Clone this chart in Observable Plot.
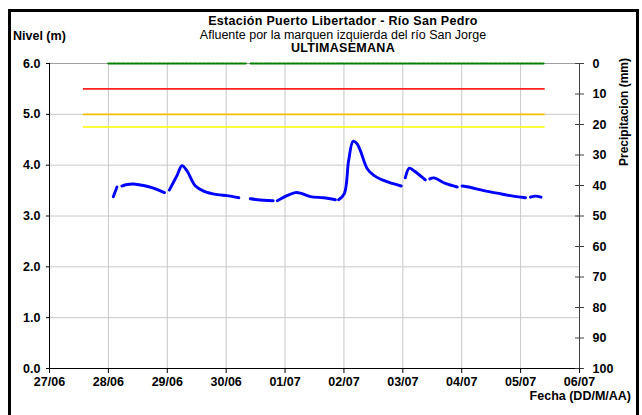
<!DOCTYPE html>
<html>
<head>
<meta charset="utf-8">
<script src="https://cdn.jsdelivr.net/npm/d3@7"></script>
<script src="https://cdn.jsdelivr.net/npm/@observablehq/plot@0.6"></script>
<style>
  html, body { margin: 0; padding: 0; background: #fff; width: 642px; height: 415px; overflow: hidden; }
  #wrap { position: relative; width: 642px; height: 415px; font-family: "Liberation Sans", Arial, sans-serif; }
  #chart { position: absolute; left: 0; top: 0; }
  .frame { position: absolute; left: 8px; top: 9px; width: 631px; height: 420px; border: 3px solid #000; box-sizing: border-box; }
  .t { position: absolute; color: #000; font-size: 12px; white-space: nowrap; line-height: 1; }
  .b { font-weight: bold; }
</style>
</head>
<body>
<div id="wrap">
  <div id="chart"></div>
  <div class="frame"></div>
  <div class="t b" style="left:343px; top:15px; transform:translateX(-50%); font-size:12.5px; letter-spacing:0.3px;">Estación Puerto Libertador - Río San Pedro</div>
  <div class="t" style="left:343px; top:29px; transform:translateX(-50%); font-size:12.5px;">Afluente por la marquen izquierda del río San Jorge</div>
  <div class="t b" style="left:343px; top:42px; transform:translateX(-50%); font-size:12.5px; letter-spacing:0.3px;">ULTIMASEMANA</div>
  <div class="t b" style="left:13px; top:30px; font-size:12.5px;">Nivel (m)</div>
  <div class="t b" style="left:624px; top:112px; transform:translate(-50%,-50%) rotate(-90deg); font-size:12px;">Precipitacion (mm)</div>
  <div class="t b" style="right:11px; top:390px; font-size:12.5px;">Fecha (DD/M/AA)</div>
</div>
<script>
// ---- data ----
const fechaInicio = "2023-06-27T00:00";
const fechaFin = "2023-07-06T00:00";
const dias = ["2023-06-27","2023-06-28","2023-06-29","2023-06-30","2023-07-01","2023-07-02","2023-07-03","2023-07-04","2023-07-05","2023-07-06"];
const nivelTiempos = [
  "2023-06-28T02:00","2023-06-28T03:30","2023-06-28T04:30","2023-06-28T05:30","2023-06-28T07:40","2023-06-28T10:10","2023-06-28T14:20","2023-06-28T18:20","2023-06-28T22:50","2023-06-28T23:50",
  "2023-06-29T00:50","2023-06-29T04:00","2023-06-29T06:00","2023-06-29T08:00","2023-06-29T11:30","2023-06-29T14:50","2023-06-29T20:20","2023-06-30T00:25","2023-06-30T05:10","2023-06-30T07:30",
  "2023-06-30T09:50","2023-06-30T15:20","2023-06-30T19:10","2023-06-30T20:00",
  "2023-06-30T20:50","2023-07-01T00:50","2023-07-01T04:15","2023-07-01T06:15","2023-07-01T10:20","2023-07-01T15:45","2023-07-01T20:30","2023-07-01T21:10",
  "2023-07-01T21:50","2023-07-02T00:10","2023-07-02T01:55","2023-07-02T03:45","2023-07-02T05:20","2023-07-02T06:40","2023-07-02T09:30","2023-07-02T12:10","2023-07-02T16:10","2023-07-02T19:40","2023-07-02T23:20","2023-07-03T00:10",
  "2023-07-03T01:00","2023-07-03T02:40","2023-07-03T04:30","2023-07-03T09:10","2023-07-03T10:00",
  "2023-07-03T11:00","2023-07-03T12:40","2023-07-03T17:20","2023-07-03T22:10","2023-07-03T23:10",
  "2023-07-04T00:10","2023-07-04T02:50","2023-07-04T09:00","2023-07-04T14:25","2023-07-04T19:50","2023-07-05T02:00","2023-07-05T03:00",
  "2023-07-05T04:00","2023-07-05T06:00","2023-07-05T08:20"
];
const nivelValores = [
  3.38,3.57,null,3.59,3.62,3.63,3.60,3.55,3.46,null,
  3.51,3.80,3.99,3.89,3.59,3.49,3.42,3.40,3.36,null,
  3.34,3.31,3.30,null,
  3.30,3.40,3.46,3.45,3.38,3.36,3.32,null,
  3.32,3.44,4.09,4.47,4.42,4.29,3.93,3.80,3.70,3.64,3.59,null,
  3.75,3.94,3.89,3.71,null,
  3.73,3.75,3.64,3.57,null,
  3.59,3.57,3.50,3.45,3.40,3.36,null,
  3.37,3.39,3.37
];
const precipTiempos = ["2023-06-28T00:00","2023-06-30T08:00","2023-06-30T09:00","2023-06-30T10:00","2023-07-05T09:20"];
const precipValores = [0, 0, null, 0, 0];
const umbralInicio = "2023-06-27T13:50";
const umbralFin = "2023-07-05T10:00";
const umbrales = [5.5, 5.0, 4.75];
const nivelTicks = [0, 1, 2, 3, 4, 5, 6];
const precipTicks = [0, 10, 20, 30, 40, 50, 60, 70, 80, 90, 100];

// ---- build ----
const pd = s => new Date(s + (s.length === 10 ? "T00:00" : "") + "Z");
const nivel = nivelTiempos.map((t, i) => ({t: pd(t), v: nivelValores[i]}));
const precip = precipTiempos.map((t, i) => ({t: pd(t), p: precipValores[i]}));
const p2y = p => 6 - p * 6 / 100;
const colUmbral = ["#ff2020", "#ffc000", "#ffff00"];
const umb = umbrales.map((u, i) => ({x1: pd(umbralInicio), x2: pd(umbralFin), y: u, c: colUmbral[i]}));
const diasD = dias.map(pd);
const inner = diasD.slice(1, -1);
const fin = pd(fechaFin);
const tickIn = new Date(fin.getTime() - 1.6 * 3600e3);

const chart = Plot.plot({
  width: 642, height: 415,
  marginLeft: 49, marginRight: 63, marginTop: 63, marginBottom: 47,
  style: {fontFamily: "'Liberation Sans', Arial, sans-serif", fontSize: "12.5px", fontWeight: "bold", color: "#000", background: "transparent"},
  x: {type: "utc", domain: [pd(fechaInicio), fin]},
  y: {domain: [0, 6]},
  marks: [
    Plot.gridX(inner, {stroke: "#c8c8c8", strokeOpacity: 1}),
    Plot.gridY([1,2,3,4,5], {stroke: "#c8c8c8", strokeOpacity: 1}),
    Plot.ruleY([6], {stroke: "#a0a0a0"}),
    Plot.ruleY(umb, {x1: "x1", x2: "x2", y: "y", stroke: "c", strokeWidth: 1.6}),
    Plot.line(precip, {x: "t", y: d => d.p == null ? NaN : p2y(d.p), stroke: "#008000", strokeWidth: 2.2, strokeDasharray: "3,1.5"}),
    Plot.line(nivel, {x: "t", y: d => d.v == null ? NaN : d.v, stroke: "#0000ff", strokeWidth: 2.9, strokeLinecap: "round", strokeLinejoin: "round", curve: "catmull-rom"}),
    Plot.ruleX([pd(fechaInicio)], {stroke: "#000"}),
    Plot.ruleY([0], {stroke: "#000"}),
    Plot.ruleX([fin], {stroke: "#404040"}),
    Plot.axisY({ticks: nivelTicks, tickFormat: d3.format(".1f"), tickSize: 3, tickPadding: 6, label: null, fontWeight: "bold"}),
    Plot.axisY({anchor: "right", ticks: precipTicks.map(p2y), tickFormat: v => String(Math.round((6 - v) * 100 / 6)), tickSize: 4, tickPadding: 9, label: null, stroke: "#404040", fontWeight: "bold", fill: "#000"}),
    Plot.ruleY(precipTicks.map(p2y), {x1: tickIn, x2: fin, stroke: "#404040"}),
    Plot.axisX({ticks: diasD, tickFormat: d3.utcFormat("%d/%m"), tickSize: 5, tickPadding: 4, label: null, fontWeight: "bold"})
  ]
});
document.getElementById("chart").appendChild(chart);
</script>
</body>
</html>
